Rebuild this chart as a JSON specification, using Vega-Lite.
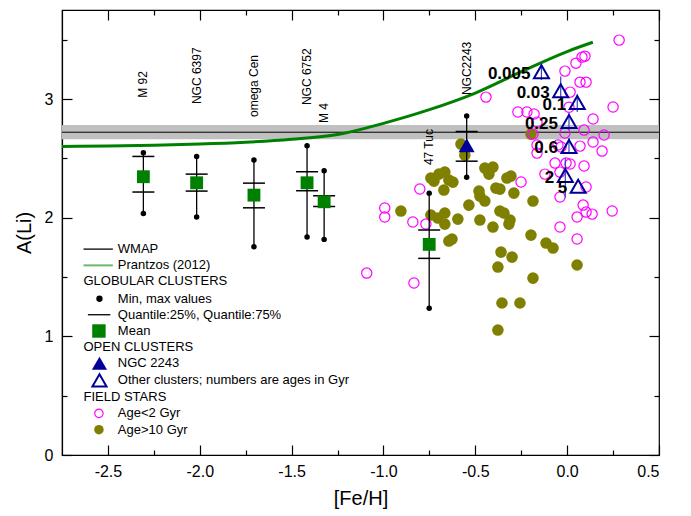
{
  "$schema": "https://vega.github.io/schema/vega-lite/v6.json",
  "width": 597,
  "height": 445,
  "autosize": "none",
  "padding": {"left": 62, "top": 10, "right": 32, "bottom": 61},
  "config": {
    "font": "Liberation Sans",
    "view": {"stroke": "#000", "strokeWidth": 1.2},
    "axis": {
      "grid": false,
      "labelFont": "Liberation Sans",
      "labelFontSize": 16,
      "labelColor": "#000",
      "titleFont": "Liberation Sans",
      "titleFontSize": 20,
      "titleFontWeight": "normal",
      "titleColor": "#000",
      "tickColor": "#000",
      "tickWidth": 1.2,
      "domainColor": "#000",
      "domainWidth": 1.2
    }
  },
  "datasets": {
    "wmap": [{"lo": 2.66, "hi": 2.78, "mid": 2.72}],
    "prantzos": [
      {"feh": -2.75, "ali": 2.6}, {"feh": -2.5, "ali": 2.604}, {"feh": -2.25, "ali": 2.611},
      {"feh": -2.0, "ali": 2.62}, {"feh": -1.75, "ali": 2.635}, {"feh": -1.5, "ali": 2.66},
      {"feh": -1.25, "ali": 2.7}, {"feh": -1.0, "ali": 2.795}, {"feh": -0.75, "ali": 2.91},
      {"feh": -0.5, "ali": 3.05}, {"feh": -0.25, "ali": 3.23}, {"feh": 0.0, "ali": 3.4},
      {"feh": 0.14, "ali": 3.478}
    ],
    "clusters": [
      {"name": "M 92", "type": "GC", "feh": -2.307, "min": 2.036, "max": 2.547, "q25": 2.216, "q75": 2.516, "mean": 2.345, "label_y": 3.01},
      {"name": "NGC 6397", "type": "GC", "feh": -2.017, "min": 2.005, "max": 2.516, "q25": 2.224, "q75": 2.367, "mean": 2.294, "label_y": 2.957},
      {"name": "omega Cen", "type": "GC", "feh": -1.705, "min": 1.755, "max": 2.485, "q25": 2.083, "q75": 2.291, "mean": 2.19, "label_y": 2.848},
      {"name": "NGC 6752", "type": "GC", "feh": -1.416, "min": 1.837, "max": 2.606, "q25": 2.227, "q75": 2.387, "mean": 2.294, "label_y": 2.949},
      {"name": "M 4", "type": "GC", "feh": -1.323, "min": 1.817, "max": 2.395, "q25": 2.095, "q75": 2.185, "mean": 2.134, "label_y": 2.797},
      {"name": "47 Tuc", "type": "GC", "feh": -0.751, "min": 1.236, "max": 2.205, "q25": 1.657, "q75": 1.896, "mean": 1.775, "label_y": 2.443},
      {"name": "NGC2243", "type": "OC", "feh": -0.547, "min": 2.34, "max": 2.857, "q25": 2.476, "q75": 2.726, "mean": 2.61, "label_y": 3.033}
    ],
    "open": [
      {"age": "0.005", "feh": -0.14, "ali": 3.23, "lo": 3.16, "hi": 3.31},
      {"age": "0.03", "feh": -0.035, "ali": 3.07, "lo": 2.99, "hi": 3.19},
      {"age": "0.1", "feh": 0.055, "ali": 2.97, "lo": 2.89, "hi": 3.04},
      {"age": "0.25", "feh": 0.01, "ali": 2.81, "lo": 2.74, "hi": 2.88},
      {"age": "0.6", "feh": 0.01, "ali": 2.6, "lo": 2.54, "hi": 2.67},
      {"age": "2", "feh": -0.01, "ali": 2.355, "lo": 2.17, "hi": 2.5},
      {"age": "5", "feh": 0.06, "ali": 2.265, "lo": 2.265, "hi": 2.265}
    ],
    "young": [
      {"feh": 0.283, "ali": 3.496}, {"feh": 0.081, "ali": 3.353}, {"feh": 0.097, "ali": 3.361},
      {"feh": 0.048, "ali": 3.302}, {"feh": -0.012, "ali": 3.235}, {"feh": 0.07, "ali": 3.142},
      {"feh": 0.103, "ali": 3.142}, {"feh": -0.442, "ali": 3.016}, {"feh": 0.016, "ali": 3.058},
      {"feh": 0.141, "ali": 2.831}, {"feh": 0.25, "ali": 2.932}, {"feh": 0.092, "ali": 2.738},
      {"feh": 0.201, "ali": 2.696}, {"feh": 0.141, "ali": 2.637}, {"feh": 0.19, "ali": 2.561},
      {"feh": 0.07, "ali": 2.603}, {"feh": -0.012, "ali": 2.713}, {"feh": -0.033, "ali": 2.595},
      {"feh": 0.016, "ali": 2.452}, {"feh": -0.006, "ali": 2.46}, {"feh": 0.092, "ali": 2.435},
      {"feh": 0.103, "ali": 2.258}, {"feh": -0.268, "ali": 2.89}, {"feh": -0.219, "ali": 2.89},
      {"feh": -0.18, "ali": 2.873}, {"feh": -0.164, "ali": 2.805}, {"feh": -0.186, "ali": 2.704},
      {"feh": -0.164, "ali": 2.612}, {"feh": -0.164, "ali": 2.544}, {"feh": -0.05, "ali": 2.612},
      {"feh": -0.066, "ali": 2.46}, {"feh": -0.121, "ali": 2.367}, {"feh": -0.251, "ali": 2.3},
      {"feh": -0.039, "ali": 2.174}, {"feh": 0.087, "ali": 2.106}, {"feh": 0.103, "ali": 2.047},
      {"feh": 0.136, "ali": 2.03}, {"feh": 0.054, "ali": 2.005}, {"feh": 0.245, "ali": 2.056},
      {"feh": 0.054, "ali": 1.82}, {"feh": -0.039, "ali": 1.921}, {"feh": -0.802, "ali": 2.241},
      {"feh": -0.993, "ali": 2.081}, {"feh": -0.993, "ali": 2.005}, {"feh": -0.84, "ali": 1.963},
      {"feh": -0.769, "ali": 1.946}, {"feh": -1.091, "ali": 1.533}, {"feh": -0.834, "ali": 1.449},
      {"feh": 0.01, "ali": 2.93}, {"feh": -0.039, "ali": 2.384}
    ],
    "old": [
      {"feh": -0.742, "ali": 2.334}, {"feh": -0.725, "ali": 2.308}, {"feh": -0.698, "ali": 2.367},
      {"feh": -0.666, "ali": 2.384}, {"feh": -0.644, "ali": 2.317}, {"feh": -0.622, "ali": 2.3},
      {"feh": -0.671, "ali": 2.233}, {"feh": -0.905, "ali": 2.056}, {"feh": -0.742, "ali": 2.022},
      {"feh": -0.704, "ali": 1.997}, {"feh": -0.666, "ali": 2.039}, {"feh": -0.666, "ali": 1.946},
      {"feh": -0.595, "ali": 1.988}, {"feh": -0.644, "ali": 1.803}, {"feh": -0.627, "ali": 1.82},
      {"feh": -0.578, "ali": 2.62}, {"feh": -0.557, "ali": 2.527}, {"feh": -0.448, "ali": 2.418},
      {"feh": -0.404, "ali": 2.426}, {"feh": -0.426, "ali": 2.367}, {"feh": -0.328, "ali": 2.334},
      {"feh": -0.306, "ali": 2.35}, {"feh": -0.388, "ali": 2.249}, {"feh": -0.366, "ali": 2.241},
      {"feh": -0.29, "ali": 2.207}, {"feh": -0.48, "ali": 2.224}, {"feh": -0.475, "ali": 2.182},
      {"feh": -0.448, "ali": 2.14}, {"feh": -0.535, "ali": 2.106}, {"feh": -0.186, "ali": 2.14},
      {"feh": -0.366, "ali": 2.056}, {"feh": -0.344, "ali": 2.039}, {"feh": -0.311, "ali": 1.98},
      {"feh": -0.317, "ali": 1.946}, {"feh": -0.475, "ali": 1.98}, {"feh": -0.404, "ali": 1.921},
      {"feh": -0.197, "ali": 1.853}, {"feh": -0.115, "ali": 1.786}, {"feh": -0.077, "ali": 1.744},
      {"feh": -0.36, "ali": 1.71}, {"feh": -0.3, "ali": 1.668}, {"feh": -0.377, "ali": 1.584},
      {"feh": -0.186, "ali": 1.491}, {"feh": -0.355, "ali": 1.281}, {"feh": -0.257, "ali": 1.281},
      {"feh": -0.377, "ali": 1.053}, {"feh": 0.054, "ali": 1.601}, {"feh": -0.197, "ali": 2.704}
    ],
    "leglines": [
      {"item": "wmap", "x": -2.633, "x2": -2.473, "y": 1.735},
      {"item": "prantzos", "x": -2.633, "x2": -2.473, "y": 1.598},
      {"item": "quantile", "x": -2.609, "x2": -2.487, "y": 1.182}
    ],
    "legsym": [
      {"item": "dot", "x": -2.546, "y": 1.317},
      {"item": "square", "x": -2.549, "y": 1.045},
      {"item": "ftri", "x": -2.546, "y": 0.773},
      {"item": "otri", "x": -2.546, "y": 0.629},
      {"item": "ocirc", "x": -2.549, "y": 0.351},
      {"item": "fcirc", "x": -2.549, "y": 0.213}
    ],
    "legtext": [
      {"x": -2.446, "y": 1.735, "label": "WMAP"},
      {"x": -2.446, "y": 1.598, "label": "Prantzos (2012)"},
      {"x": -2.633, "y": 1.463, "label": "GLOBULAR CLUSTERS"},
      {"x": -2.446, "y": 1.317, "label": "Min, max values"},
      {"x": -2.446, "y": 1.182, "label": "Quantile:25%, Quantile:75%"},
      {"x": -2.446, "y": 1.045, "label": "Mean"},
      {"x": -2.633, "y": 0.907, "label": "OPEN CLUSTERS"},
      {"x": -2.446, "y": 0.773, "label": "NGC 2243"},
      {"x": -2.446, "y": 0.629, "label": "Other clusters; numbers are ages in Gyr"},
      {"x": -2.633, "y": 0.486, "label": "FIELD STARS"},
      {"x": -2.446, "y": 0.351, "label": "Age<2 Gyr"},
      {"x": -2.446, "y": 0.213, "label": "Age>10 Gyr"}
    ]
  },
  "resolve": {"axis": {"x": "independent", "y": "independent"}},
  "layer": [
    {
      "data": {"name": "wmap"},
      "mark": {"type": "rect", "color": "#c0c0c0"},
      "encoding": {
        "y": {"field": "lo", "type": "quantitative", "scale": {"domain": [0, 3.75], "nice": false, "zero": false}, "axis": null},
        "y2": {"field": "hi"}
      }
    },
    {
      "data": {"name": "wmap"},
      "mark": {"type": "rule", "color": "#000", "strokeWidth": 1},
      "encoding": {
        "y": {"field": "mid", "type": "quantitative", "axis": null}
      }
    },
    {
      "data": {"name": "old"},
      "mark": {"type": "point", "shape": "circle", "filled": true, "color": "#808000", "opacity": 1, "size": 135},
      "encoding": {
        "x": {"field": "feh", "type": "quantitative", "scale": {"domain": [-2.75, 0.5], "nice": false, "zero": false},
          "axis": {"orient": "bottom", "values": [-2.25, -1.75, -1.25, -0.75, -0.25, 0.25], "labels": false, "domain": false, "tickSize": -5, "title": null}},
        "y": {"field": "ali", "type": "quantitative", "scale": {"domain": [0, 3.75], "nice": false, "zero": false},
          "axis": {"orient": "left", "values": [0.5, 1.5, 2.5, 3.5], "labels": false, "domain": false, "tickSize": -5, "title": null}}
      }
    },
    {
      "data": {"name": "young"},
      "mark": {"type": "point", "shape": "circle", "filled": false, "color": "#ff00ff", "strokeWidth": 1.2, "opacity": 1, "size": 105},
      "encoding": {
        "x": {"field": "feh", "type": "quantitative", "scale": {"domain": [-2.75, 0.5], "nice": false, "zero": false},
          "axis": {"orient": "bottom", "values": [-2.5, -2, -1.5, -1, -0.5, 0, 0.5], "labelExpr": "(datum.value < 0 ? '-' : '') + format(abs(datum.value), '.1f')", "tickSize": -10, "labelPadding": 18, "title": "[Fe/H]", "titlePadding": 9}},
        "y": {"field": "ali", "type": "quantitative", "scale": {"domain": [0, 3.75], "nice": false, "zero": false},
          "axis": {"orient": "left", "values": [0, 1, 2, 3], "format": "d", "tickSize": -10, "labelPadding": 19, "title": "A(Li)", "titlePadding": 10}}
      }
    },
    {
      "data": {"name": "prantzos"},
      "mark": {"type": "line", "color": "#008000", "strokeWidth": 3, "interpolate": "monotone"},
      "encoding": {
        "x": {"field": "feh", "type": "quantitative",
          "axis": {"orient": "top", "values": [-2.5, -2, -1.5, -1, -0.5, 0, 0.5], "labels": false, "domain": false, "tickSize": -10, "title": null}},
        "y": {"field": "ali", "type": "quantitative",
          "axis": {"orient": "right", "values": [0, 1, 2, 3], "labels": false, "domain": false, "tickSize": -10, "title": null}}
      }
    },
    {
      "data": {"name": "clusters"},
      "mark": {"type": "rule", "color": "#000", "strokeWidth": 1.3},
      "encoding": {
        "x": {"field": "feh", "type": "quantitative", "axis": null},
        "y": {"field": "min", "type": "quantitative", "axis": null},
        "y2": {"field": "max"}
      }
    },
    {
      "data": {"name": "clusters"},
      "transform": [{"fold": ["q25", "q75"], "as": ["k", "v"]}],
      "mark": {"type": "tick", "orient": "horizontal", "size": 22, "thickness": 1.5, "color": "#000", "opacity": 1},
      "encoding": {
        "x": {"field": "feh", "type": "quantitative", "axis": null},
        "y": {"field": "v", "type": "quantitative", "axis": null}
      }
    },
    {
      "data": {"name": "clusters"},
      "transform": [{"fold": ["min", "max"], "as": ["k", "v"]}],
      "mark": {"type": "point", "shape": "circle", "filled": true, "color": "#000", "opacity": 1, "size": 30},
      "encoding": {
        "x": {"field": "feh", "type": "quantitative", "axis": null},
        "y": {"field": "v", "type": "quantitative", "axis": null}
      }
    },
    {
      "data": {"name": "clusters"},
      "transform": [{"filter": "datum.type == 'GC'"}],
      "mark": {"type": "point", "shape": "square", "filled": true, "color": "#008000", "opacity": 1, "size": 165},
      "encoding": {
        "x": {"field": "feh", "type": "quantitative", "axis": null},
        "y": {"field": "mean", "type": "quantitative", "axis": null}
      }
    },
    {
      "data": {"name": "clusters"},
      "transform": [{"filter": "datum.type == 'OC'"}],
      "mark": {"type": "point", "shape": "triangle-up", "filled": true, "color": "#000099", "opacity": 1, "size": 256},
      "encoding": {
        "x": {"field": "feh", "type": "quantitative", "axis": null},
        "y": {"field": "mean", "type": "quantitative", "axis": null}
      }
    },
    {
      "data": {"name": "open"},
      "mark": {"type": "rule", "color": "#3344bb", "strokeWidth": 1.2},
      "encoding": {
        "x": {"field": "feh", "type": "quantitative", "axis": null},
        "y": {"field": "lo", "type": "quantitative", "axis": null},
        "y2": {"field": "hi"}
      }
    },
    {
      "data": {"name": "open"},
      "mark": {"type": "point", "shape": "triangle-up", "filled": false, "color": "#000099", "strokeWidth": 2, "opacity": 1, "size": 225},
      "encoding": {
        "x": {"field": "feh", "type": "quantitative",
          "axis": {"orient": "top", "values": [-2.25, -1.75, -1.25, -0.75, -0.25, 0.25], "labels": false, "domain": false, "tickSize": -5, "title": null}},
        "y": {"field": "ali", "type": "quantitative",
          "axis": {"orient": "right", "values": [0.5, 1.5, 2.5, 3.5], "labels": false, "domain": false, "tickSize": -5, "title": null}}
      }
    },
    {
      "data": {"name": "open"},
      "mark": {"type": "text", "align": "right", "baseline": "middle", "dx": -11, "dy": 2, "fontSize": 17, "fontWeight": "bold", "color": "#000"},
      "encoding": {
        "x": {"field": "feh", "type": "quantitative", "axis": null},
        "y": {"field": "ali", "type": "quantitative", "axis": null},
        "text": {"field": "age"}
      }
    },
    {
      "data": {"name": "clusters"},
      "mark": {"type": "text", "angle": 270, "align": "left", "baseline": "middle", "fontSize": 12, "color": "#000"},
      "encoding": {
        "x": {"field": "feh", "type": "quantitative", "axis": null},
        "y": {"field": "label_y", "type": "quantitative", "axis": null},
        "text": {"field": "name"}
      }
    },
    {
      "data": {"name": "leglines"},
      "transform": [{"filter": "datum.item != 'prantzos'"}],
      "mark": {"type": "rule", "color": "#000", "strokeWidth": 1.3},
      "encoding": {
        "x": {"field": "x", "type": "quantitative", "axis": null},
        "x2": {"field": "x2"},
        "y": {"field": "y", "type": "quantitative", "axis": null}
      }
    },
    {
      "data": {"name": "leglines"},
      "transform": [{"filter": "datum.item == 'prantzos'"}],
      "mark": {"type": "rule", "color": "#6cb86c", "strokeWidth": 2},
      "encoding": {
        "x": {"field": "x", "type": "quantitative", "axis": null},
        "x2": {"field": "x2"},
        "y": {"field": "y", "type": "quantitative", "axis": null}
      }
    },
    {
      "data": {"name": "legsym"},
      "transform": [{"filter": "datum.item == 'dot'"}],
      "mark": {"type": "point", "shape": "circle", "filled": true, "color": "#000", "opacity": 1, "size": 40},
      "encoding": {
        "x": {"field": "x", "type": "quantitative", "axis": null},
        "y": {"field": "y", "type": "quantitative", "axis": null}
      }
    },
    {
      "data": {"name": "legsym"},
      "transform": [{"filter": "datum.item == 'square'"}],
      "mark": {"type": "point", "shape": "square", "filled": true, "color": "#008000", "opacity": 1, "size": 180},
      "encoding": {
        "x": {"field": "x", "type": "quantitative", "axis": null},
        "y": {"field": "y", "type": "quantitative", "axis": null}
      }
    },
    {
      "data": {"name": "legsym"},
      "transform": [{"filter": "datum.item == 'ftri'"}],
      "mark": {"type": "point", "shape": "triangle-up", "filled": true, "color": "#000099", "opacity": 1, "size": 230},
      "encoding": {
        "x": {"field": "x", "type": "quantitative", "axis": null},
        "y": {"field": "y", "type": "quantitative", "axis": null}
      }
    },
    {
      "data": {"name": "legsym"},
      "transform": [{"filter": "datum.item == 'otri'"}],
      "mark": {"type": "point", "shape": "triangle-up", "filled": false, "color": "#000099", "strokeWidth": 2, "opacity": 1, "size": 200},
      "encoding": {
        "x": {"field": "x", "type": "quantitative", "axis": null},
        "y": {"field": "y", "type": "quantitative", "axis": null}
      }
    },
    {
      "data": {"name": "legsym"},
      "transform": [{"filter": "datum.item == 'ocirc'"}],
      "mark": {"type": "point", "shape": "circle", "filled": false, "color": "#ff00ff", "strokeWidth": 1.2, "opacity": 1, "size": 70},
      "encoding": {
        "x": {"field": "x", "type": "quantitative", "axis": null},
        "y": {"field": "y", "type": "quantitative", "axis": null}
      }
    },
    {
      "data": {"name": "legsym"},
      "transform": [{"filter": "datum.item == 'fcirc'"}],
      "mark": {"type": "point", "shape": "circle", "filled": true, "color": "#808000", "opacity": 1, "size": 90},
      "encoding": {
        "x": {"field": "x", "type": "quantitative", "axis": null},
        "y": {"field": "y", "type": "quantitative", "axis": null}
      }
    },
    {
      "data": {"name": "legtext"},
      "mark": {"type": "text", "align": "left", "baseline": "middle", "fontSize": 13, "color": "#000"},
      "encoding": {
        "x": {"field": "x", "type": "quantitative", "axis": null},
        "y": {"field": "y", "type": "quantitative", "axis": null},
        "text": {"field": "label"}
      }
    }
  ]
}
